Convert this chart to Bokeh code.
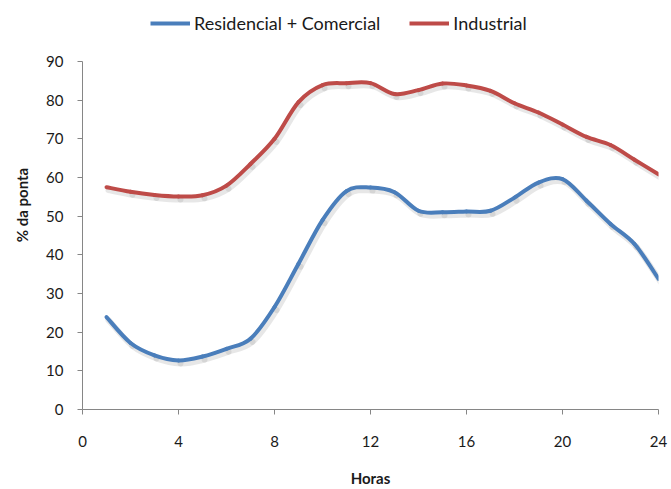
from bokeh.plotting import figure
from bokeh.models import Range1d, FixedTicker, Legend, LegendItem
from bokeh.embed import file_html
from bokeh.resources import INLINE

# Hourly load profile, as % of peak demand
hours = list(range(1, 25))
residencial_comercial = [23.9, 17.2, 14.0, 12.7, 13.7, 15.7, 18.3, 26.5, 37.7, 49.0,
                         56.5, 57.4, 56.2, 51.4, 51.0, 51.2, 51.4, 54.8, 58.7, 59.6,
                         54.0, 48.0, 42.8, 33.8]
industrial = [57.5, 56.3, 55.5, 55.1, 55.4, 57.9, 63.5, 70.0, 79.5, 83.9,
              84.4, 84.4, 81.6, 82.6, 84.3, 83.8, 82.4, 79.2, 76.8, 73.7,
              70.5, 68.4, 64.6, 60.8]

series_names = ["Residencial + Comercial", "Industrial"]
series_colors = ["#4A7EBB", "#BE4B48"]
x_ticks = [0, 4, 8, 12, 16, 20, 24]
y_ticks = [0, 10, 20, 30, 40, 50, 60, 70, 80, 90]

FONT = "Lato"
AXIS_GRAY = "#868686"

# layout: plot area spans 409px vertically, axis top (90) sits 61px below the top
FRAME_H = 409
AXIS_TOP_PX = 61
y_max = 90
y_view_top = y_max * FRAME_H / (FRAME_H - AXIS_TOP_PX)


def smooth_segments(xs, ys):
    """Catmull-Rom style Bezier control points (spreadsheet 'smoothed line')."""
    n = len(xs)
    px = [xs[0]] + list(xs) + [xs[-1]]
    py = [ys[0]] + list(ys) + [ys[-1]]
    seg = dict(x0=[], y0=[], x1=[], y1=[], cx0=[], cy0=[], cx1=[], cy1=[])
    for i in range(1, n):
        a, b = i, i + 1
        seg["x0"].append(px[a]); seg["y0"].append(py[a])
        seg["x1"].append(px[b]); seg["y1"].append(py[b])
        seg["cx0"].append(px[a] + (px[b] - px[a - 1]) / 6.0)
        seg["cy0"].append(py[a] + (py[b] - py[a - 1]) / 6.0)
        seg["cx1"].append(px[b] - (px[b + 1] - px[a]) / 6.0)
        seg["cy1"].append(py[b] - (py[b + 1] - py[a]) / 6.0)
    return seg


p = figure(width=671, height=489, output_backend="svg", toolbar_location=None,
           x_range=Range1d(0, 24), y_range=Range1d(0, y_view_top),
           min_border_left=82, min_border_right=13, min_border_top=0,
           min_border_bottom=489 - FRAME_H)
p.outline_line_color = None
p.xgrid.visible = False
p.ygrid.visible = False
p.background_fill_color = "white"
p.border_fill_color = "white"

for ax in (p.xaxis[0], p.yaxis[0]):
    ax.axis_line_color = AXIS_GRAY
    ax.major_tick_line_color = AXIS_GRAY
    ax.minor_tick_line_color = None
    ax.major_tick_in = 0
    ax.major_tick_out = 5
    ax.major_label_text_font = FONT
    ax.major_label_text_font_size = "15px"
    ax.major_label_text_color = "#1a1a1a"
    ax.axis_label_text_font = FONT
    ax.axis_label_text_font_size = "15px"
    ax.axis_label_text_font_style = "bold"
    ax.axis_label_text_color = "#1a1a1a"

p.xaxis.ticker = FixedTicker(ticks=x_ticks)
p.yaxis.ticker = FixedTicker(ticks=y_ticks)
p.yaxis.bounds = (0, y_max)
p.xaxis.axis_label = "Horas"
p.yaxis.axis_label = "% da ponta"
p.xaxis.major_label_standoff = 21
p.yaxis.major_label_standoff = 14
p.xaxis.axis_label_standoff = 19
p.yaxis.axis_label_standoff = 12

# soft drop shadow offsets (about 2px right, 3px down)
px_per_y = (FRAME_H - AXIS_TOP_PX) / y_max
sx = 2 / 24.0
sy = -3 / px_per_y

legend_handles = []
for vals, color in zip([residencial_comercial, industrial], series_colors):
    seg = smooth_segments(hours, vals)
    shadow = {k: ([v + sx for v in seg[k]] if k.startswith(("x", "cx"))
                  else [v + sy for v in seg[k]]) for k in seg}
    p.bezier(**shadow, line_color="#a0a0a0", line_alpha=0.25, line_width=6,
             line_cap="round")
for vals, color in zip([residencial_comercial, industrial], series_colors):
    seg = smooth_segments(hours, vals)
    p.bezier(**seg, line_color=color, line_width=4, line_cap="round")
    # legend key: an invisible-data line carrying the series style
    legend_handles.append(p.line([float("nan")], [float("nan")],
                                 line_color=color, line_width=4))

legend = Legend(items=[LegendItem(label=n, renderers=[h])
                       for n, h in zip(series_names, legend_handles)],
                location=(68, FRAME_H - 34), orientation="horizontal",
                padding=0, margin=0, spacing=29,
                glyph_width=40, glyph_height=20, label_height=20,
                label_standoff=4,
                label_text_font=FONT, label_text_font_size="18px",
                label_text_color="#1a1a1a",
                border_line_alpha=0, background_fill_alpha=0)
p.add_layout(legend, "center")

open("out.html", "w").write(file_html(p, INLINE))
